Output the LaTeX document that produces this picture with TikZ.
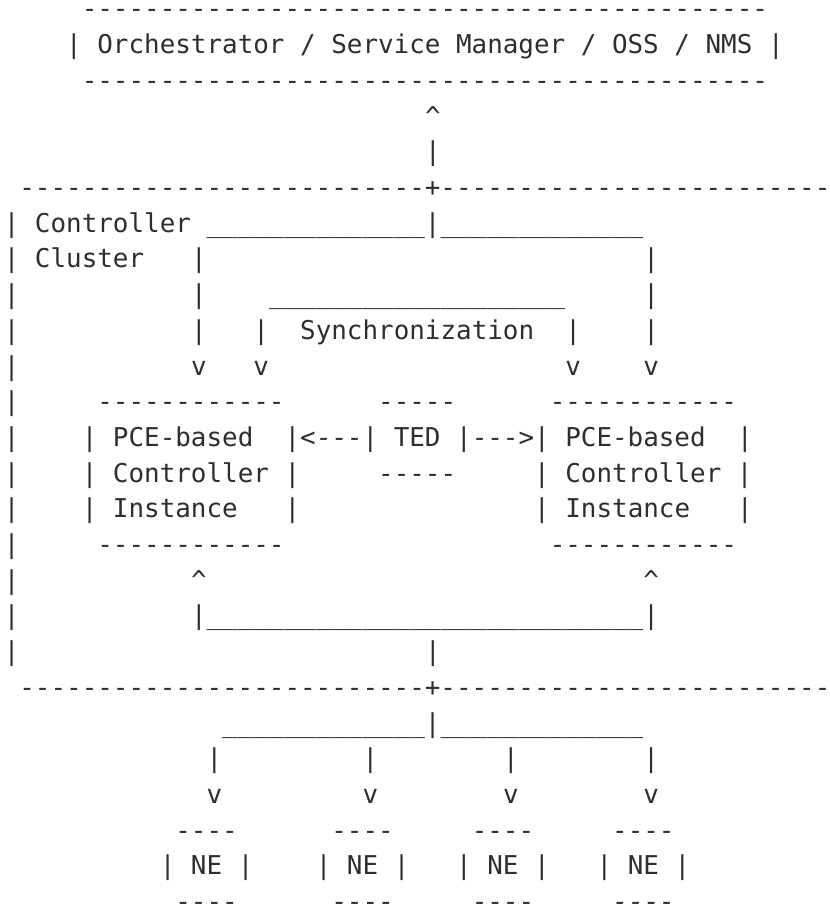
\documentclass[tikz,border=0pt]{standalone}
\usepackage{fontspec}
\setmonofont{DejaVu Sans Mono}
\newcommand\repch[2]{\foreach \k in {1,...,#1}{#2}}

\begin{document}
\begin{tikzpicture}[x=11.7pt,y=-26.775pt,
  art/.style={anchor=base west,inner sep=0pt,outer sep=0pt,text=black!82,
    font=\ttfamily\fontsize{19.43pt}{26pt}\selectfont}]
    \path[use as bounding box] ({-3.8/15.6},{1-18/35.7}) rectangle ({(829-3.8)/15.6},{1+(906-18)/35.7});
    % management system on top
    \node [art] (mgmttop) at (5,1) {\repch{44}{-}};
    \node [art] (mgmt) at (4,2) {| Orchestrator / Service Manager / OSS / NMS |};
    \node [art] (mgmtbot) at (5,3) {\repch{44}{-}};
    \node [art] (northtip) at (27,4) {\textasciicircum};
    \node [art] (northbar) at (27,5) {|};
    % controller cluster frame
    \node [art] (clustertop) at (1,6) {\repch{26}{-}+\repch{25}{-}};
    \node [art] (clusterlab) at (0,7) {| Controller};
    \node [art] (clusterlabb) at (0,8) {| Cluster};
    \foreach \r in {9,...,19}
        \node [art] (west\r) at (0,\r) {|};
    \node [art] (clusterbot) at (1,20) {\repch{26}{-}+\repch{25}{-}};
    % fan out to the two instances
    \node [art] (northbus) at (13,7) {\repch{14}{\_}|\repch{13}{\_}};
    \foreach \r in {8,9,10} {
        \node [art] (feedl\r) at (12,\r) {|};
        \node [art] (feedr\r) at (41,\r) {|};
    }
    \node [art] (feedltip) at (12,11) {v};
    \node [art] (feedrtip) at (41,11) {v};
    % synchronization
    \node [art] (synctop) at (17,9) {\repch{19}{\_}};
    \node [art] (syncl) at (16,10) {|};
    \node [art] (sync) at (19,10) {Synchronization};
    \node [art] (syncr) at (36,10) {|};
    \node [art] (syncltip) at (16,11) {v};
    \node [art] (syncrtip) at (36,11) {v};
    % instances and TED
    \node [art] (pcel1) at (6,12) {\repch{12}{-}};
    \node [art] (tedtop) at (24,12) {\repch{5}{-}};
    \node [art] (pcer1) at (35,12) {\repch{12}{-}};
    \node [art] (pcel2) at (5,13) {| PCE-based};
    \node [art] (ted) at (18,13) {|<---| TED |--->| PCE-based};
    \node [art] (pcer2) at (47,13) {|};
    \node [art] (pcel3) at (5,14) {| Controller |};
    \node [art] (tedbot) at (24,14) {\repch{5}{-}};
    \node [art] (pcer3) at (34,14) {| Controller |};
    \node [art] (pcel4) at (5,15) {| Instance};
    \node [art] (pcel4r) at (18,15) {|};
    \node [art] (pcer4) at (34,15) {| Instance};
    \node [art] (pcer4r) at (47,15) {|};
    \node [art] (pcel5) at (6,16) {\repch{12}{-}};
    \node [art] (pcer5) at (35,16) {\repch{12}{-}};
    % southbound
    \node [art] (southltip) at (12,17) {\textasciicircum};
    \node [art] (southrtip) at (41,17) {\textasciicircum};
    \node [art] (southbus) at (12,18) {|\repch{28}{\_}|};
    \node [art] (southbar) at (27,19) {|};
    \node [art] (nebus) at (14,21) {\repch{13}{\_}|\repch{13}{\_}};
    % network elements
    \foreach \c [count=\i] in {13,23,32,41} {
        \node [art] (nebar\i) at (\c,22) {|};
        \node [art] (netip\i) at (\c,23) {v};
    }
    \foreach \c [count=\i] in {10,20,29,38} {
        \node [art] (netop\i) at (\c+1,24) {----};
        \node [art] (ne\i) at (\c,25) {| NE |};
        \node [art] (nebot\i) at (\c+1,26) {----};
    }
\end{tikzpicture}
\end{document}
